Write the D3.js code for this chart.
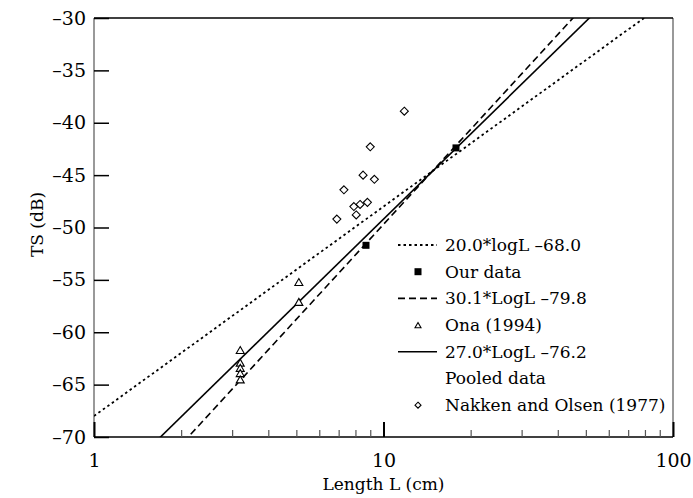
<!DOCTYPE html>
<html>
<head>
<meta charset="utf-8">
<script src="https://cdn.jsdelivr.net/npm/d3@7"></script>
<style>
  body { margin: 0; background: #fff; }
  text { font-family: "DejaVu Serif", serif; fill: #000; }
</style>
</head>
<body>
<div id="viz"></div>
<script>
// fitted lines TS = a*log10(L) + b
const fitLabels = ["20.0*logL \u201368.0", "30.1*LogL \u201379.8", "27.0*LogL \u201376.2"];
const fitSlopes = [20.0, 30.1, 27.0];
const fitIntercepts = [-68.0, -79.8, -76.2];

// our data (filled squares)
const ourL = [8.7, 17.8];
const ourTS = [-51.7, -42.4];

// Ona (1994), triangles
const onaL = [3.2, 3.2, 3.2, 3.2, 3.2, 5.1, 5.1];
const onaTS = [-61.7, -62.9, -63.4, -63.9, -64.5, -55.2, -57.1];

// Nakken and Olsen (1977), diamonds
const nakL = [11.8, 9.0, 8.5, 9.3, 7.3, 7.9, 8.3, 8.8, 8.05, 6.9];
const nakTS = [-38.9, -42.3, -45.0, -45.4, -46.4, -48.0, -47.8, -47.6, -48.8, -49.2];

const yTicks = [-70, -65, -60, -55, -50, -45, -40, -35, -30];
const xMajor = [1, 10, 100];
const xMinor = [2, 3, 4, 5, 6, 7, 8, 9, 20, 30, 40, 50, 60, 70, 80, 90];

const legendRows = [
    { kind: "line", style: 0, text: fitLabels[0] },
    { kind: "square", text: "Our data" },
    { kind: "line", style: 1, text: fitLabels[1] },
    { kind: "triangle", text: "Ona (1994)" },
    { kind: "line", style: 2, text: fitLabels[2] },
    { kind: "none", text: "Pooled data" },
    { kind: "diamond", text: "Nakken and Olsen (1977)" }
];

const width = 693, height = 498;
const margin = { left: 94, right: 20, top: 18, bottom: 61 };
const dashes = ["2.5,3", "7,4", null];

const svg = d3.select("#viz").append("svg")
    .attr("width", width)
    .attr("height", height);

const x = d3.scaleLog().domain([1, 100]).range([margin.left, width - margin.right]);
const y = d3.scaleLinear().domain([-70, -30]).range([height - margin.bottom, margin.top]);

svg.append("clipPath").attr("id", "plot")
    .append("rect")
    .attr("x", x(1)).attr("y", y(-30))
    .attr("width", x(100) - x(1)).attr("height", y(-70) - y(-30));

// frame
svg.append("line").attr("x1", x(1)).attr("x2", x(1)).attr("y1", y(-30)).attr("y2", y(-70))
    .attr("stroke", "#777").attr("stroke-width", 1.5);
svg.append("line").attr("x1", x(100)).attr("x2", x(100)).attr("y1", y(-30)).attr("y2", y(-70))
    .attr("stroke", "#777").attr("stroke-width", 1.5);
svg.append("line").attr("x1", x(1)).attr("x2", x(100)).attr("y1", y(-30)).attr("y2", y(-30))
    .attr("stroke", "#000").attr("stroke-width", 1.5);
svg.append("line").attr("x1", x(1)).attr("x2", x(100)).attr("y1", y(-70)).attr("y2", y(-70))
    .attr("stroke", "#000").attr("stroke-width", 1.5);

// y axis, ticks inward
const yAxis = svg.append("g")
    .attr("transform", `translate(${x(1)},0)`)
    .call(d3.axisLeft(y).tickValues(yTicks).tickSizeInner(-15).tickSizeOuter(0).tickPadding(8)
        .tickFormat(d => "\u2013" + Math.abs(d)));
yAxis.select(".domain").remove();
yAxis.selectAll("line").attr("stroke", "#000").attr("stroke-width", 1.5);
yAxis.selectAll("text").attr("font-family", "DejaVu Serif").attr("font-size", 19);

// x axis minor ticks
const xMin = svg.append("g")
    .attr("transform", `translate(0,${y(-70)})`)
    .call(d3.axisBottom(x).tickValues(xMinor).tickSizeInner(-7).tickSizeOuter(0).tickFormat(""));
xMin.select(".domain").remove();
xMin.selectAll("line").attr("stroke", "#555").attr("stroke-width", 1.2);

// x axis major ticks
const xAxis = svg.append("g")
    .attr("transform", `translate(0,${y(-70)})`)
    .call(d3.axisBottom(x).tickValues(xMajor).tickSizeInner(-15).tickSizeOuter(0).tickPadding(17)
        .tickFormat(d3.format("d")));
xAxis.select(".domain").remove();
xAxis.selectAll("line").attr("stroke", "#000").attr("stroke-width", 2);
xAxis.selectAll("text").attr("font-family", "DejaVu Serif").attr("font-size", 19);

// axis titles
svg.append("text")
    .attr("x", (x(1) + x(100)) / 2).attr("y", 490)
    .attr("text-anchor", "middle").attr("font-size", 17)
    .text("Length L (cm)");
svg.append("text")
    .attr("transform", `translate(43,${(y(-30) + y(-70)) / 2 - 3}) rotate(-90)`)
    .attr("text-anchor", "middle").attr("font-size", 17)
    .text("TS (dB)");

// fit lines
const plot = svg.append("g").attr("clip-path", "url(#plot)");
const line = d3.line().x(d => x(d[0])).y(d => y(d[1]));
fitSlopes.forEach((a, i) => {
    const pts = [1, 100].map(L => [L, a * Math.log10(L) + fitIntercepts[i]]);
    plot.append("path")
        .attr("d", line(pts))
        .attr("fill", "none")
        .attr("stroke", "#000")
        .attr("stroke-width", i === 0 ? 1.8 : 1.6)
        .attr("stroke-dasharray", dashes[i]);
});

// marker shapes
function marker(g, kind, cx, cy, s) {
    if (kind === "square") {
        g.append("rect").attr("x", cx - s / 2).attr("y", cy - s / 2)
            .attr("width", s).attr("height", s).attr("fill", "#000");
    } else if (kind === "triangle") {
        const h = s * 0.87;
        g.append("path")
            .attr("d", `M${cx},${cy - h / 2}L${cx + s / 2},${cy + h / 2}L${cx - s / 2},${cy + h / 2}Z`)
            .attr("fill", "#fff").attr("stroke", "#000").attr("stroke-width", 1.1);
    } else if (kind === "diamond") {
        const r = s / 2;
        g.append("path")
            .attr("d", `M${cx},${cy - r}L${cx + r},${cy}L${cx},${cy + r}L${cx - r},${cy}Z`)
            .attr("fill", "#fff").attr("stroke", "#000").attr("stroke-width", 1.1);
    }
}

const pts = svg.append("g");
nakL.forEach((L, i) => marker(pts, "diamond", x(L), y(nakTS[i]), 8));
onaL.forEach((L, i) => marker(pts, "triangle", x(L), y(onaTS[i]), 8));
ourL.forEach((L, i) => marker(pts, "square", x(L), y(ourTS[i]), 7));

// legend
const leg = svg.append("g");
legendRows.forEach((r, i) => {
    const cy = 245 + i * 26.7;
    if (r.kind === "line") {
        leg.append("line").attr("x1", 398).attr("x2", 437).attr("y1", cy).attr("y2", cy)
            .attr("stroke", "#000").attr("stroke-width", r.style === 0 ? 1.8 : 1.6)
            .attr("stroke-dasharray", dashes[r.style]);
    } else {
        marker(leg, r.kind, 418, cy, r.kind === "square" ? 7 : 6);
    }
    leg.append("text").attr("x", 445).attr("y", cy).attr("dy", "0.35em")
        .attr("font-size", 17).text(r.text);
});
</script>
</body>
</html>
